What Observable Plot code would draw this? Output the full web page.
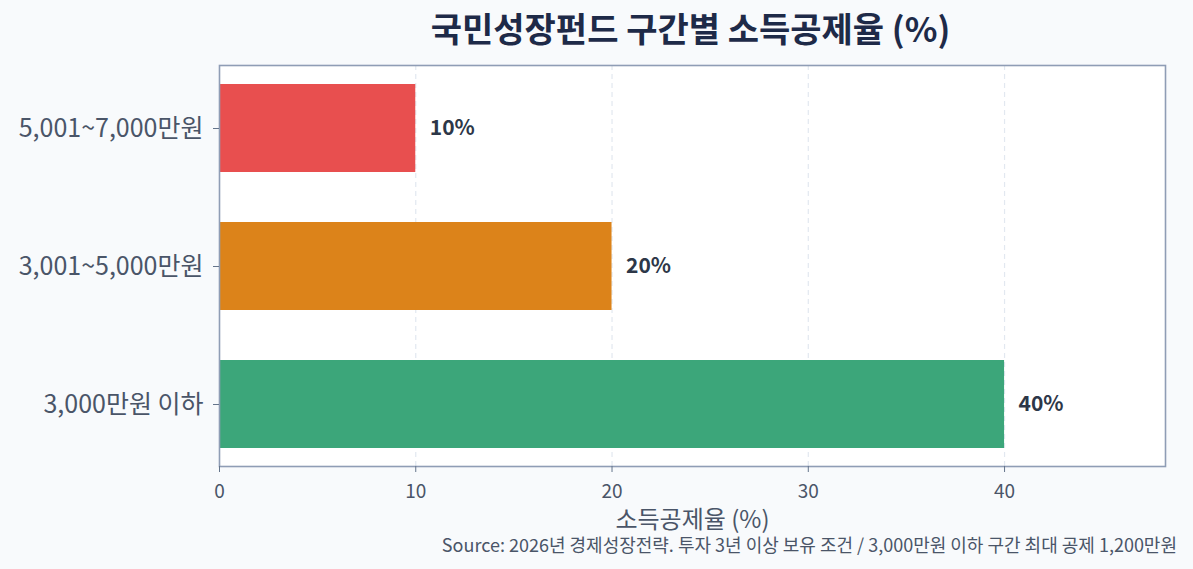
<!DOCTYPE html>
<html>
<head>
<meta charset="utf-8">
<script src="https://cdn.jsdelivr.net/npm/d3@7"></script>
<script src="https://cdn.jsdelivr.net/npm/@observablehq/plot@0.6"></script>
<style>
  html, body { margin: 0; padding: 0; background: #f8fafc; }
  body { width: 1193px; height: 569px; position: relative; overflow: hidden;
         font-family: "Noto Sans CJK KR", "Noto Sans", sans-serif; }
  #title { position: absolute; left: 188px; width: 1005px; top: 6px; text-align: center;
           font-size: 34px; font-weight: 700; color: #1e2a48; line-height: 44px; }
  #chart { position: absolute; left: 0; top: 58px; }
  #caption { position: absolute; right: 16px; top: 533px; font-size: 18px; color: #4a5568; line-height: 22px; white-space: nowrap; }
</style>
</head>
<body>
<div id="title">국민성장펀드 구간별 소득공제율 (%)</div>
<div id="chart"></div>
<div id="caption">Source: 2026년 경제성장전략. 투자 3년 이상 보유 조건 / 3,000만원 이하 구간 최대 공제 1,200만원</div>
<script>
const brackets = ["5,001~7,000만원", "3,001~5,000만원", "3,000만원 이하"];
const rates = [10, 20, 40];
const colors = ["#e84f4f", "#dc831a", "#3ca67a"];
const xTicks = [0, 10, 20, 30, 40];

const data = brackets.map((b, i) => ({bracket: b, rate: rates[i], color: colors[i], label: rates[i] + "%"}));

const chart = Plot.plot({
  width: 1193,
  height: 480,
  marginLeft: 219,
  marginRight: 28,
  marginTop: 7,
  marginBottom: 72,
  style: {background: "transparent", fontFamily: "'Noto Sans CJK KR', 'Noto Sans', sans-serif"},
  x: {domain: [0, 48.2], ticks: xTicks, label: null},
  y: {domain: brackets, paddingInner: 0.365, paddingOuter: 0.13, label: null},
  marks: [
    Plot.frame({fill: "white", stroke: null}),
    Plot.gridX(xTicks.slice(1), {stroke: "#e2e8f0", strokeOpacity: 1, strokeWidth: 1.2, strokeDasharray: "5,4"}),
    Plot.barX(data, {x: "rate", y: "bracket", fill: "color"}),
    Plot.text(data, {x: "rate", y: "bracket", text: "label", textAnchor: "start", dx: 14,
      fontSize: 21, fontWeight: 700, fill: "#2d3748"}),
    Plot.frame({stroke: "#8f9db5", strokeWidth: 1.6}),
    Plot.axisX(xTicks, {tickSize: 6, stroke: "#64748b", fontSize: 19, fill: "#4a5568", tickPadding: 12,
      label: null}),
    Plot.axisY({tickSize: 6, stroke: "#64748b", fontSize: 25, fill: "#4a5568", tickPadding: 10, label: null}),
    Plot.text(["소득공제율 (%)"], {frameAnchor: "bottom", dy: 61, fontSize: 24, fill: "#4a5568"})
  ]
});
document.getElementById("chart").appendChild(chart);
</script>
</body>
</html>
